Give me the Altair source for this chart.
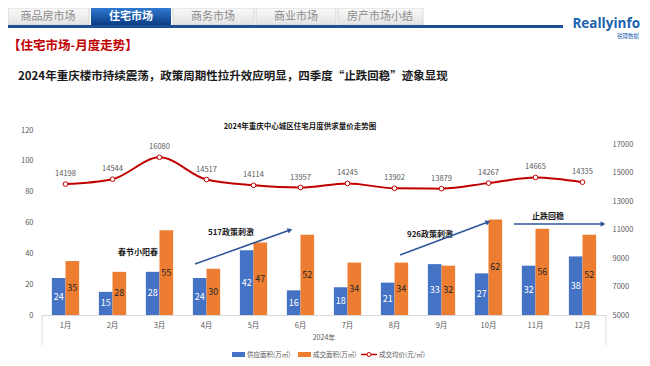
import math
import altair as alt
import pandas as pd

# ---------------- data ----------------
months = [f"{i}月" for i in range(1, 13)]
supply = [24, 15, 28, 24, 42, 16, 18, 21, 33, 27, 32, 38]
deal = [35, 28, 55, 30, 47, 52, 34, 34, 32, 62, 56, 52]
price = [14198, 14544, 16080, 14517, 14114, 13957, 14245, 13902, 13879, 14267, 14665, 14335]

S_SUP = "供应面积(万㎡)"
S_DEAL = "成交面积(万㎡)"
S_PRICE = "成交均价(元/㎡)"

left_ticks = list(range(0, 121, 20))
right_ticks = list(range(5000, 17001, 2000))

# ---------------- layout ----------------
FONT = "Noto Sans CJK SC"
X0, Y0 = 42, 130          # plot origin on the page
PW, PH = 564, 185         # plot size
CW, CH = 634, 350         # canvas size
PAD = {"left": X0 - 8, "top": Y0 - 8, "right": CW - (X0 - 8) - PW, "bottom": CH - (Y0 - 8) - PH}
GRAY = "#595959"
BLUE = "#4472C4"
ORANGE = "#ED7D31"
RED = "#C00000"
ARROW = "#2E5597"

bars_df = pd.DataFrame({
    "month": months * 2,
    "series": [S_SUP] * 12 + [S_DEAL] * 12,
    "value": supply + deal,
})
line_df = pd.DataFrame({"month": months, "price": price})

xenc = alt.X(
    "month:N", sort=months,
    scale=alt.Scale(paddingInner=0.42, paddingOuter=0.21),
    axis=alt.Axis(title=None, labelAngle=0, ticks=False, tickSize=0, domainColor="#d9d9d9",
                  labelColor=GRAY, labelFontSize=7.5, labelPadding=6, labelFont=FONT),
)
xoff = alt.XOffset("series:N", sort=[S_SUP, S_DEAL], scale=alt.Scale(paddingInner=0, paddingOuter=0))
yL = alt.Y(
    "value:Q", scale=alt.Scale(domain=[0, 120], nice=False),
    axis=alt.Axis(values=left_ticks, tickCount=20, title=None, domain=False, ticks=False, grid=False,
                  orient="left", labelColor=GRAY, labelFontSize=7.5, labelPadding=9, labelFont=FONT,
                  labelOverlap=False),
)

bars = alt.Chart(bars_df).mark_bar().encode(
    x=xenc, xOffset=xoff, y=yL,
    color=alt.Color("series:N", scale=alt.Scale(domain=[S_SUP, S_DEAL], range=[BLUE, ORANGE]), legend=None),
)


def bar_labels(series, color):
    return (
        alt.Chart(bars_df)
        .transform_filter(alt.datum.series == series)
        .transform_calculate(mid="datum.value / 2")
        .mark_text(fontSize=9, font=FONT, color=color)
        .encode(x=xenc, xOffset=xoff, y=alt.Y("mid:Q"), text=alt.Text("value:Q", format="d"))
    )


bar_group = alt.layer(bars, bar_labels(S_SUP, "#ffffff"), bar_labels(S_DEAL, "#262626"))

yR = alt.Y(
    "price:Q", scale=alt.Scale(domain=[5000, 18000], nice=False),
    axis=alt.Axis(orient="right", values=right_ticks, tickCount=20, format="d", title=None, domain=False,
                  ticks=False, grid=False, labelColor=GRAY, labelFontSize=7.5, labelPadding=6,
                  labelFont=FONT, labelOverlap=False),
)
line = alt.Chart(line_df).mark_line(color=RED, strokeWidth=2, interpolate="monotone").encode(x=xenc, y=yR)
pts = alt.Chart(line_df).mark_point(shape="circle", filled=True, fill="white", stroke=RED, strokeWidth=1,
                                    size=22, opacity=1).encode(x=xenc, y=yR)
plbl = alt.Chart(line_df).mark_text(dy=-6, baseline="bottom", fontSize=7.5, color=GRAY, font=FONT).encode(
    x=xenc, y=yR, text=alt.Text("price:Q", format="d"))
line_group = alt.layer(line, pts, plbl)

main = alt.layer(bar_group, line_group).resolve_scale(y="independent")


# ---------------- decorations (page pixel positions) ----------------
def pxy(df):
    return dict(x=alt.X("px:Q", scale=None, axis=None), y=alt.Y("py:Q", scale=None, axis=None))


def deco_text(items, **kw):
    df = pd.DataFrame(items, columns=["px", "py", "t"])
    df["px"] = df["px"] - X0
    df["py"] = df["py"] - Y0
    kw.setdefault("font", FONT)
    return alt.Chart(df).mark_text(**kw).encode(text="t:N", **pxy(df))


def deco_rect(items, **kw):
    df = pd.DataFrame(items, columns=["px", "py", "px2", "py2"])
    df["px"] -= X0
    df["px2"] -= X0
    df["py"] -= Y0
    df["py2"] -= Y0
    return alt.Chart(df).mark_rect(**kw).encode(
        x2=alt.X2("px2:Q"), y2=alt.Y2("py2:Q"), **pxy(df))


def deco_rule(items, **kw):
    df = pd.DataFrame(items, columns=["px", "py", "px2", "py2"])
    df["px"] -= X0
    df["px2"] -= X0
    df["py"] -= Y0
    df["py2"] -= Y0
    return alt.Chart(df).mark_rule(**kw).encode(
        x2=alt.X2("px2:Q"), y2=alt.Y2("py2:Q"), **pxy(df))


def deco_point(px, py, **kw):
    df = pd.DataFrame({"px": [px - X0], "py": [py - Y0]})
    return alt.Chart(df).mark_point(**kw).encode(**pxy(df))


decos = []
# header tabs
tab_grad = alt.Gradient(gradient="linear", x1=0, x2=0, y1=0, y2=1,
                        stops=[alt.GradientStop(color="#fafafa", offset=0),
                               alt.GradientStop(color="#e2e2e2", offset=1)])
act_grad = alt.Gradient(gradient="linear", x1=0, x2=0, y1=0, y2=1,
                        stops=[alt.GradientStop(color="#2f7ad0", offset=0),
                               alt.GradientStop(color="#0b3c86", offset=1)])
decos.append(deco_rect([(8, 8, 89, 25), (173, 8, 254, 25), (256, 8, 336, 25), (338, 8, 423, 25)],
                       fill=tab_grad, stroke="#cfcfcf", strokeWidth=0.8))
decos.append(deco_rect([(91, 8, 171, 25)], fill=act_grad))
decos.append(deco_rect([(8, 25, 563, 28)], color="#1d4f92"))
decos.append(deco_text([(48, 17, "商品房市场"), (213, 17, "商务市场"), (296, 17, "商业市场"),
                        (380, 17, "房产市场小结")], fontSize=11, color="#8c8c8c", baseline="middle"))
decos.append(deco_text([(131, 17, "住宅市场")], fontSize=11, color="white", fontWeight="bold",
                       baseline="middle"))
# logo
decos.append(deco_text([(640, 24, "Reallyinfo")], font="Open Sans", fontSize=13.5, fontWeight="bold",
                       color="#1a63b0", baseline="middle", align="right"))
decos.append(deco_text([(639, 36, "锐理数据")], fontSize=5.5, color="#1a63b0", baseline="middle",
                       align="right"))
# titles
decos.append(deco_text([(8, 46, "【住宅市场-月度走势】")], fontSize=12.5, fontWeight="bold",
                       color=RED, align="left", baseline="middle"))
decos.append(deco_text([(18, 77, "2024年重庆楼市持续震荡，政策周期性拉升效应明显，四季度“止跌回稳”迹象显现")],
                       fontSize=11.5, fontWeight="bold", color="#1a1a1a", align="left", baseline="middle"))
decos.append(deco_text([(300, 127, "2024年重庆中心城区住宅月度供求量价走势图")], fontSize=7.5,
                       fontWeight="bold", color="#1a1a1a", baseline="middle"))
# annotations
decos.append(deco_text([(138, 253, "春节小阳春"), (231, 233, "517政策刺激"), (430, 235, "926政策刺激"),
                        (548, 217, "止跌回稳")], fontSize=8, fontWeight="bold", color="#1a1a1a",
                       baseline="middle"))
arrows = [(195, 264, 290, 230), (400, 255, 488, 222), (514, 224, 603, 224)]
decos.append(deco_rule(arrows, color=ARROW, strokeWidth=1.5))
for (ax1, ay1, ax2, ay2) in arrows:
    ang = math.degrees(math.atan2(ay2 - ay1, ax2 - ax1)) % 360
    decos.append(deco_point(ax2, ay2, shape="triangle-right", filled=True, color=ARROW, size=30,
                            angle=ang, opacity=1))
# category axis frame
decos.append(deco_rule([(42, 315, 42, 345), (606, 315, 606, 345)], color="#d9d9d9", strokeWidth=1))
decos.append(deco_text([(324, 338, "2024年")], fontSize=7, color=GRAY, baseline="middle"))
# legend
decos.append(deco_rect([(232, 352, 245, 357)], color=BLUE))
decos.append(deco_rect([(298, 352, 311, 357)], color=ORANGE))
decos.append(deco_rule([(361, 354.5, 377, 354.5)], color=RED, strokeWidth=1.5))
decos.append(deco_point(369, 354.5, shape="circle", filled=True, fill="white", stroke=RED, strokeWidth=1,
                        size=16, opacity=1))
decos.append(deco_text([(247, 354.5, S_SUP), (313, 354.5, S_DEAL), (379, 354.5, S_PRICE)], fontSize=6.5,
                       color=GRAY, align="left", baseline="middle"))

chart = (
    alt.layer(main, *decos)
    .resolve_scale(x="independent", y="independent", color="independent")
    .properties(width=PW, height=PH, padding=PAD, autosize=alt.AutoSizeParams(type="none"),
                background="white")
    .configure(font=FONT)
    .configure_view(stroke=None)
)

chart.save("out.html", embed_options={"renderer": "svg", "actions": False})
